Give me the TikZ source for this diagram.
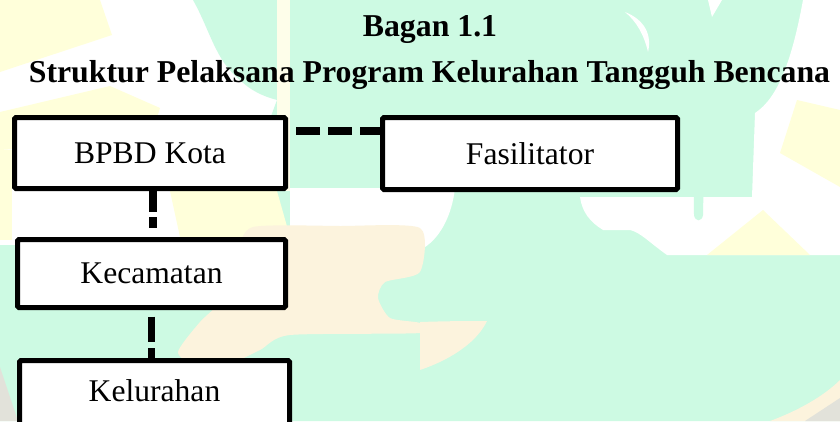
\documentclass[tikz,border=0pt]{standalone}
\usepackage{fontspec}
\setmainfont{Liberation Serif}
\definecolor{wmgreen}{RGB}{205,250,227}
\definecolor{wmyellow}{RGB}{255,255,218}
\definecolor{wmpale}{RGB}{254,254,234}
\definecolor{wmpeach}{RGB}{252,243,221}
\definecolor{wmgrey}{RGB}{226,226,218}
\tikzset{
  box/.style={draw=black, line width=5pt, fill=white, rounded corners=1.5pt,
    inner sep=0pt, font=\fontsize{31.6}{38}\selectfont},
  titletext/.style={anchor=base, inner sep=0pt, font=\fontsize{31.8}{38}\selectfont\bfseries},
  conn/.style={line width=7.5pt, draw=black},
  hconn/.style={conn, dash pattern=on 24pt off 8pt, dash phase=24pt},
  vconnA/.style={conn, dash pattern=on 21pt off 5pt on 11pt off 20pt},
  vconnB/.style={conn, dash pattern=on 25pt off 6.5pt, dash phase=25pt}
}
\begin{document}
\begin{tikzpicture}[x=1pt,y=-1pt]
\useasboundingbox (0,0) rectangle (840,421);
\clip (0,0) rectangle (840,421);
% ---- watermark background ----
\fill[white] (0,0) rectangle (840,421);
\fill[wmyellow] (0,0) -- (100,0) -- (112,35) -- (0,72) -- cycle;
\fill[wmyellow] (0,112) -- (110,86) -- (160,108) -- (150,140) -- (0,150) -- cycle;
\fill[wmyellow] (0,150) rectangle (12,240);
\fill[wmgreen] (193,0) -- (840,0) -- (840,421) -- (0,421) -- (0,245) -- (170,245)
  -- (240,200) -- (277,100) .. controls (262,96) and (250,90) .. (240,80)
  .. controls (215,60) and (210,30) .. (193,0) -- cycle;
\fill[wmpale] (277,0) rectangle (290,191);
\fill[wmyellow] (170,191) -- (277,191) -- (290,237) -- (180,237) -- cycle;
\fill[white] (290,188) rectangle (383,230);
\fill[white] (383,188) -- (455,188) .. controls (452,215) and (440,240) .. (420,250)
  -- (383,245) -- cycle;
\fill[white] (803,0) -- (840,0) -- (840,255) -- (667,255)
  .. controls (650,243) and (640,232) .. (630,230) -- (603,230)
  .. controls (590,222) and (582,212) .. (580,197) -- (752,197) -- (755,113)
  .. controls (778,98) and (792,60) .. (803,0) -- cycle;
\fill[wmgreen] (693,113) -- (705,113) -- (703,215) .. controls (702,222) and (695,222) .. (694,215) -- cycle;
\fill[wmyellow] (797,100) -- (840,110) -- (840,187) -- (780,153) -- cycle;
\fill[wmyellow] (707,255) -- (763,210) -- (810,255) -- cycle;
\fill[white] (625,12) .. controls (645,20) and (652,35) .. (648,52)
  .. controls (644,35) and (637,22) .. (625,12) -- cycle;
\fill[white] (708,0) -- (722,0) -- (712,17) -- cycle;
\fill[wmpeach] plot[smooth cycle, tension=0.4] coordinates {
  (253,227) (340,226) (420,228) (420,272) (385,282) (378,298) (390,318)
  (420,323) (420,333) (290,335) (260,350) (225,366) (195,366) (178,352)
  (200,322) (230,292) (238,252)};
\fill[wmpeach] (420,322) .. controls (450,321) and (470,321) .. (487,321)
  .. controls (478,340) and (455,358) .. (420,370) -- cycle;
\fill[wmpeach] (770,421) .. controls (800,410) and (825,395) .. (840,380) -- (840,421) -- cycle;
\fill[wmgrey] (805,421) -- (840,398) -- (840,421) -- cycle;
\fill[wmgrey] (0,367) -- (18,421) -- (0,421) -- cycle;
% ---- titles ----
\node[titletext] (judul1) at (430,36) {Bagan 1.1};
\node[titletext] (judul2) at (429.5,82) {Struktur Pelaksana Program Kelurahan Tangguh Bencana};
% ---- boxes ----
\node[box, minimum width=271pt, minimum height=71pt] (bpbd) at (150,153) {BPBD Kota};
\node[box, minimum width=295pt, minimum height=72pt] (fas) at (530,153.5) {Fasilitator};
\node[box, minimum width=268pt, minimum height=68pt] (kec) at (151.5,273.5) {Kecamatan};
\node[box, minimum width=270pt, text height=22pt, text depth=20pt, inner ysep=19pt,
  anchor=north] (kel) at (154.5,358) {Kelurahan};
% ---- connectors ----
\draw[hconn] ([yshift=-16pt]bpbd.north east) -- ([yshift=-16pt]fas.north west);
\draw[vconnA] ([xshift=3pt]bpbd.south) -- ([xshift=3pt]bpbd.south |- kec.north);
\draw[vconnB] (kec.south) -- (kec.south |- kel.north);
\end{tikzpicture}
\end{document}
